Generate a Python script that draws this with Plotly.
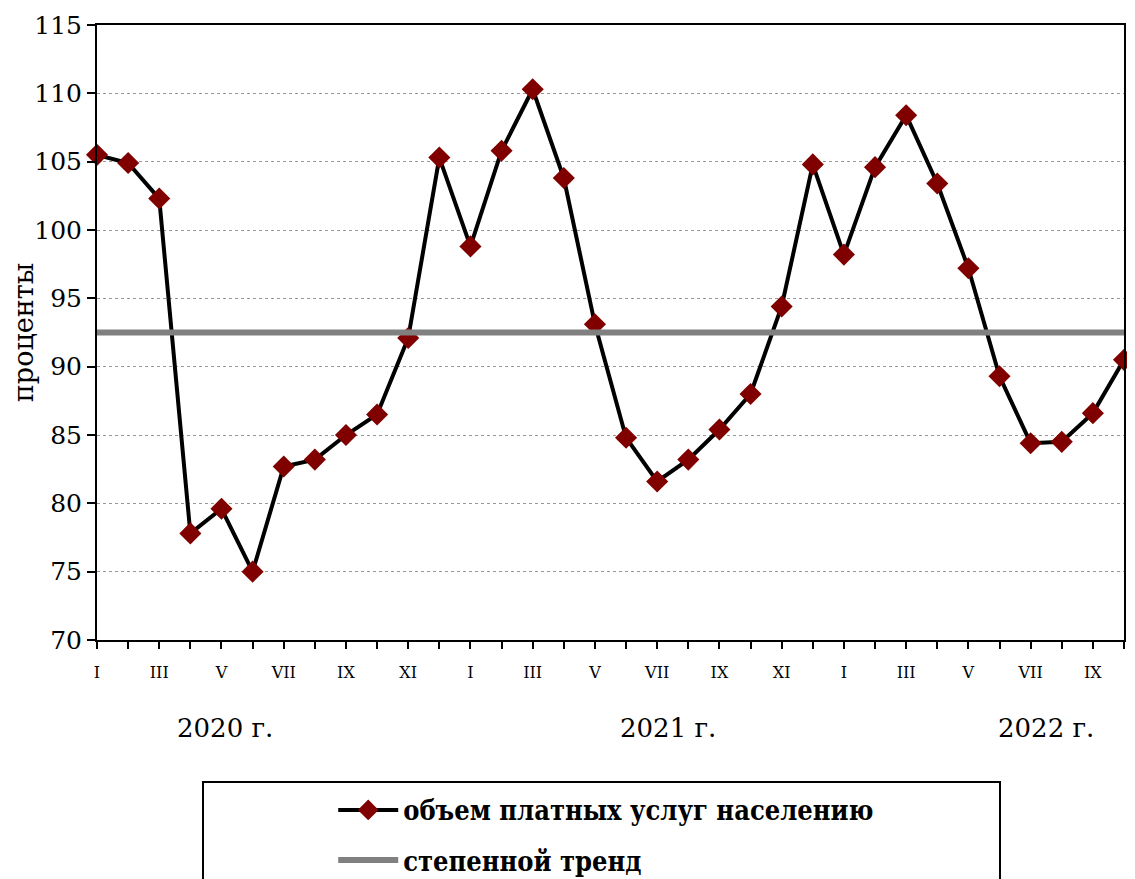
import plotly.graph_objects as go

# monthly index of paid services to the population, % of same month prev. year
months = ["I", "II", "III", "IV", "V", "VI", "VII", "VIII", "IX", "X", "XI", "XII",
          "I", "II", "III", "IV", "V", "VI", "VII", "VIII", "IX", "X", "XI", "XII",
          "I", "II", "III", "IV", "V", "VI", "VII", "VIII", "IX", "X"]
values = [105.5, 104.9, 102.3, 77.8, 79.6, 75.0, 82.7, 83.2, 85.0, 86.5, 92.1, 105.3,
          98.8, 105.8, 110.3, 103.8, 93.1, 84.8, 81.6, 83.2, 85.4, 88.0, 94.4, 104.8,
          98.2, 104.6, 108.4, 103.4, 97.2, 89.3, 84.4, 84.5, 86.6, 90.5]
# power trend comes out flat on this scale
trend_level = 92.5

years = ["2020 г.", "2021 г.", "2022 г."]
year_pos = [4.1, 18.35, 30.5]

x = list(range(len(values)))
# label every other month, like the original
ticktext = [m if i % 2 == 0 else "" for i, m in enumerate(months)]

font = "DejaVu Serif"
font_narrow = "DejaVu Serif Condensed, DejaVu Serif"

fig = go.Figure()
fig.add_trace(go.Scatter(
    x=x, y=values, mode="lines+markers", name="объем платных услуг населению",
    legendgroup="a",
    line=dict(color="black", width=4),
    marker=dict(symbol="diamond", size=17, color="#800000"),
    cliponaxis=False,
))
fig.add_trace(go.Scatter(
    x=[x[0], x[-1]], y=[trend_level, trend_level], mode="lines",
    name="степенной тренд", legendgroup="b",
    line=dict(color="#808080", width=6),
))

for label, pos in zip(years, year_pos):
    fig.add_annotation(x=pos, y=-0.143, xref="x", yref="paper", text=label,
                       yanchor="middle", showarrow=False,
                       font=dict(family=font, size=26, color="black"))

# legend frame (wider than the entries, as in the source)
fig.add_shape(type="rect", xref="paper", yref="paper",
              x0=(203 - 97) / 1027, x1=(1000 - 97) / 1027,
              y0=-0.42, y1=-0.231,
              line=dict(color="black", width=2), fillcolor="rgba(0,0,0,0)")

fig.update_layout(
    width=1135, height=879,
    margin=dict(l=89, r=19, t=17, b=247),
    paper_bgcolor="white", plot_bgcolor="white",
    font=dict(family=font, color="black"),
    showlegend=True,
    legend=dict(x=0.230, y=0.115, xref="paper", yref="container",
                xanchor="left", yanchor="top",
                font=dict(family=font_narrow, size=27, weight="bold"),
                itemwidth=60, tracegroupgap=12, bgcolor="rgba(0,0,0,0)"),
    xaxis=dict(
        range=[0, len(values) - 1], automargin=False,
        tickmode="array", tickvals=x, ticktext=ticktext,
        ticks="outside", ticklen=7, tickwidth=2, tickcolor="black",
        tickfont=dict(family=font, size=16), ticklabelstandoff=10,
        showline=True, linecolor="black", linewidth=2, mirror=True,
        showgrid=False, zeroline=False,
    ),
    yaxis=dict(
        range=[70, 115], dtick=5, automargin=False,
        ticks="outside", ticklen=8, tickwidth=2, tickcolor="black",
        tickfont=dict(family=font, size=25),
        showline=True, linecolor="black", linewidth=2, mirror=True,
        showgrid=True, gridcolor="#999999", gridwidth=1, griddash="dot",
        zeroline=False,
        title=dict(text="проценты", font=dict(family=font, size=27), standoff=12),
    ),
)

fig.write_html("out.html")
